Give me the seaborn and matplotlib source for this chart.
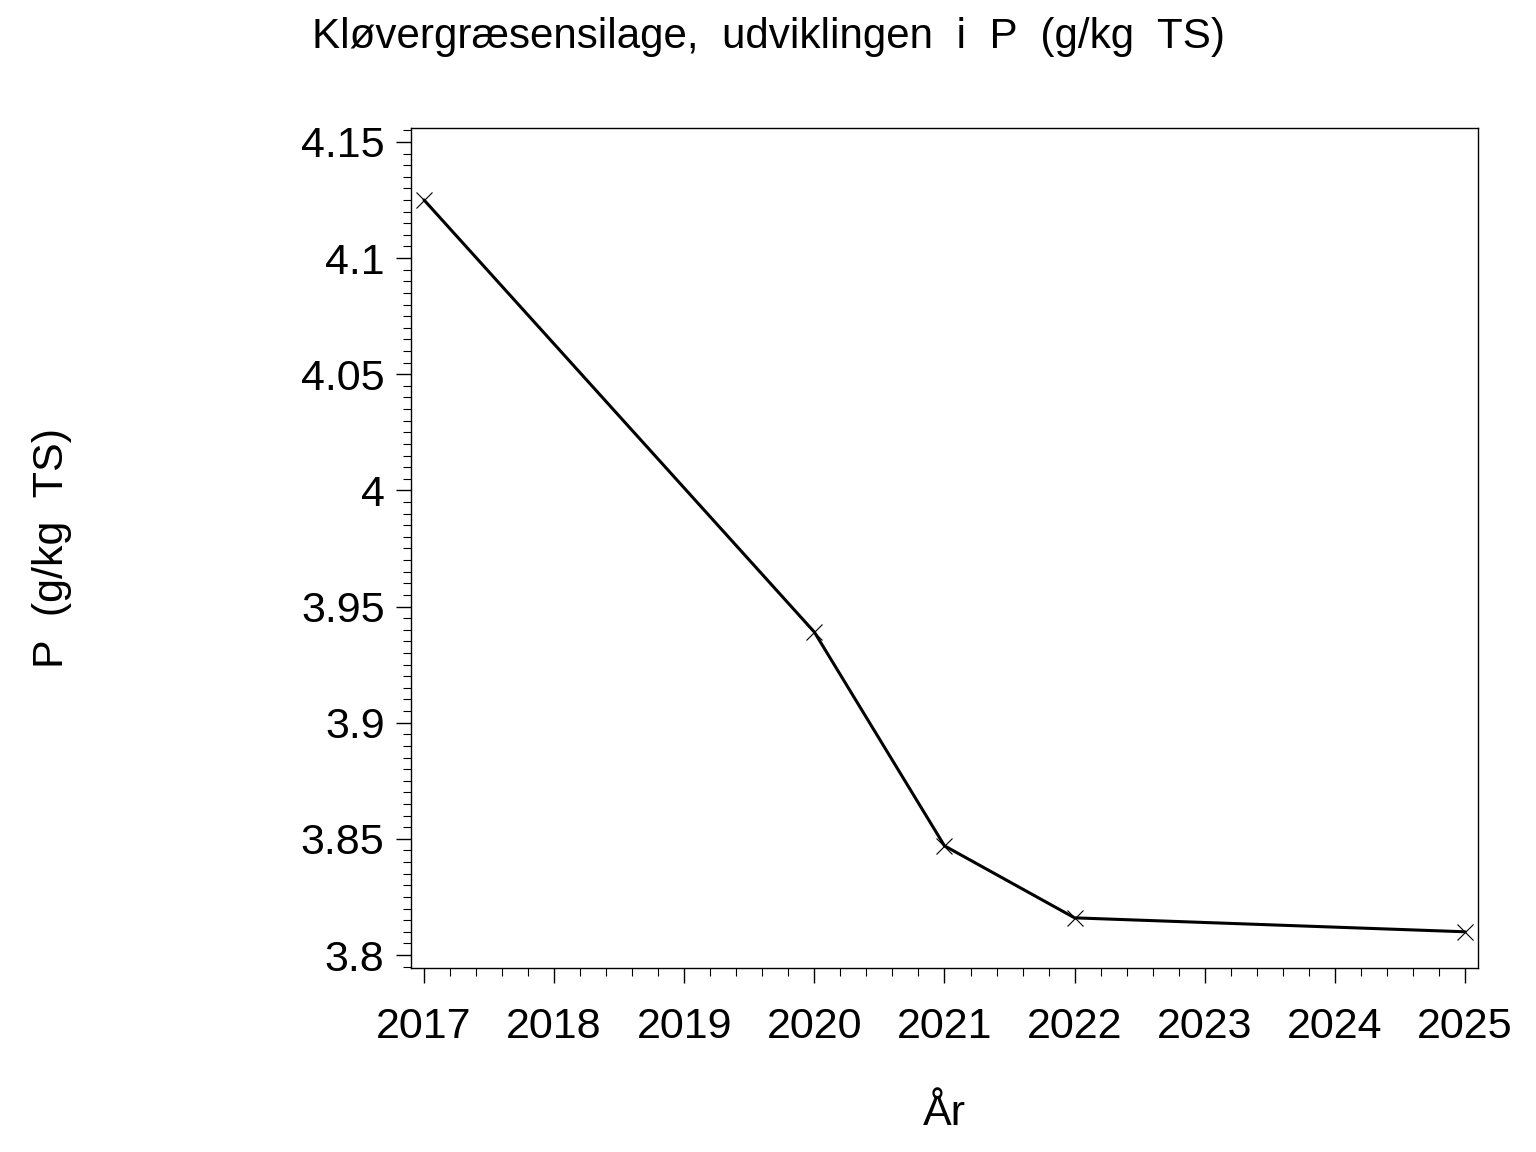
import pandas as pd
import matplotlib
matplotlib.use('Agg')
import matplotlib.pyplot as plt
import seaborn as sns
from matplotlib.ticker import MultipleLocator

# Data
aar = [2017, 2020, 2021, 2022, 2025]
p_vaerdi = [4.125, 3.939, 3.847, 3.816, 3.810]
x_ticks = [2017, 2018, 2019, 2020, 2021, 2022, 2023, 2024, 2025]
y_ticks = [3.8, 3.85, 3.9, 3.95, 4.0, 4.05, 4.1, 4.15]
y_labels = ['3.8', '3.85', '3.9', '3.95', '4', '4.05', '4.1', '4.15']

dados = pd.DataFrame({'aar': aar, 'p': p_vaerdi})

sns.set_theme(style="white")
plt.rcParams['font.family'] = ['Liberation Sans', 'DejaVu Sans']

fig = plt.figure(figsize=(15.36, 11.52), dpi=100)
ax = fig.add_axes([0.2676, 0.1597, 0.6946, 0.7292])

sns.lineplot(data=dados, x='aar', y='p', ax=ax, color='black', linewidth=2.2,
             marker='x', markersize=12, markeredgewidth=0.8, markeredgecolor='black')

ax.set_xlim(2016.9, 2025.1)
ax.set_ylim(3.7944, 4.156)
ax.set_xticks(x_ticks)
ax.set_xticklabels([str(x) for x in x_ticks])
ax.set_yticks(y_ticks)
ax.set_yticklabels(y_labels)
ax.xaxis.set_minor_locator(MultipleLocator(0.2))
ax.yaxis.set_minor_locator(MultipleLocator(0.005))

ax.tick_params(axis='both', which='major', direction='out', length=11, width=1,
               color='black', labelsize=31, labelcolor='black')
ax.tick_params(axis='both', which='minor', direction='out', length=5.5, width=0.8,
               color='black')
ax.tick_params(axis='x', which='both', bottom=True, pad=17)
ax.tick_params(axis='y', which='both', left=True, pad=8)

for s in ax.spines.values():
    s.set_color('black')
    s.set_linewidth(1.0)
    s.set_visible(True)

ax.set_xlabel('År', fontsize=31, labelpad=34, color='black')
ax.set_ylabel('P  (g/kg  TS)', fontsize=31, labelpad=0, color='black')
ax.yaxis.set_label_coords(-0.318, 0.5)

fig.suptitle('Kløvergræsensilage,  udviklingen  i  P  (g/kg  TS)', x=0.5, y=0.985,
             fontsize=30.3, color='black')

fig.savefig('out.png', dpi=100, facecolor='white')
